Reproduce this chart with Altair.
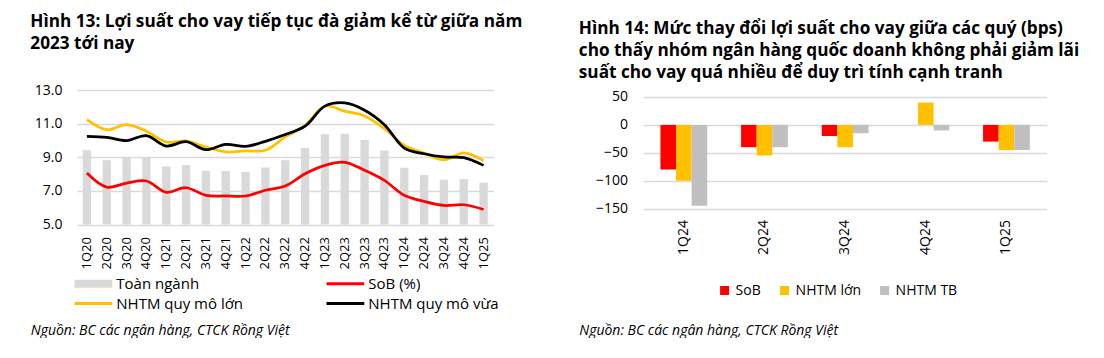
import altair as alt
import pandas as pd

# ---------------- data: left chart (Hình 13) ----------------
quarters = ["1Q20", "2Q20", "3Q20", "4Q20", "1Q21", "2Q21", "3Q21", "4Q21",
            "1Q22", "2Q22", "3Q22", "4Q22", "1Q23", "2Q23", "3Q23", "4Q23",
            "1Q24", "2Q24", "3Q24", "4Q24", "1Q25"]
toan_nganh = [9.42, 8.82, 9.0, 9.0, 8.46, 8.54, 8.2, 8.18, 8.12, 8.4, 8.82,
              9.55, 10.37, 10.4, 10.03, 9.4, 8.38, 7.95, 7.67, 7.71, 7.49]
sob = [8.07, 7.23, 7.47, 7.59, 6.92, 7.19, 6.74, 6.7, 6.7, 7.04, 7.29,
       8.02, 8.52, 8.7, 8.23, 7.63, 6.74, 6.38, 6.14, 6.18, 5.9]
nhtm_lon = [11.24, 10.64, 10.94, 10.55, 9.91, 9.97, 9.61, 9.32, 9.38, 9.42, 10.21,
            10.9, 12.05, 11.74, 11.46, 10.7, 9.71, 9.26, 8.84, 9.27, 8.8]
nhtm_vua = [10.25, 10.19, 9.99, 10.29, 9.67, 9.93, 9.45, 9.77, 9.65, 9.95, 10.35,
            10.85, 12.04, 12.23, 11.8, 10.94, 9.55, 9.21, 9.02, 8.98, 8.52]
series_left = ["Toàn ngành", "SoB (%)", "NHTM quy mô lớn", "NHTM quy mô vừa"]
colors_left = ["#D9D9D9", "#FF0000", "#FFC000", "#000000"]
# legend entries listed column by column (2 columns)
legend_order_left = ["Toàn ngành", "NHTM quy mô lớn", "SoB (%)", "NHTM quy mô vừa"]
left_ticks = [5, 7, 9, 11, 13]

# ---------------- data: right chart (Hình 14) ----------------
quarters_r = ["1Q24", "2Q24", "3Q24", "4Q24", "1Q25"]
sob_r = [-80, -40, -20, 0, -30]
lon_r = [-100, -55, -40, 40, -45]
tb_r = [-145, -40, -15, -10, -45]
series_right = ["SoB", "NHTM lớn", "NHTM TB"]
colors_right = ["#FF0000", "#FFC000", "#BFBFBF"]
right_ticks = [-150, -100, -50, 0, 50]

title_left = ["Hình 13: Lợi suất cho vay tiếp tục đà giảm kể từ giữa năm",
              "2023 tới nay"]
title_right = ["Hình 14: Mức thay đổi lợi suất cho vay giữa các quý (bps)",
               "cho thấy nhóm ngân hàng quốc doanh không phải giảm lãi",
               "suất cho vay quá nhiều để duy trì tính cạnh tranh"]
source = "Nguồn: BC các ngân hàng, CTCK Rồng Việt"

FONT = "Open Sans"
GRID = "#D9D9D9"

# ---------------- build tables ----------------
bars_df = pd.DataFrame({"quarter": quarters, "value": toan_nganh, "series": series_left[0]})
lines_df = pd.concat([
    pd.DataFrame({"quarter": quarters, "value": vals, "series": name})
    for name, vals in zip(series_left[1:], [sob, nhtm_lon, nhtm_vua])
], ignore_index=True)
legend_df = pd.concat([bars_df, lines_df], ignore_index=True)

right_df = pd.concat([
    pd.DataFrame({"quarter": quarters_r, "value": vals, "series": name})
    for name, vals in zip(series_right, [sob_r, lon_r, tb_r])
], ignore_index=True)

# ---------------- left chart ----------------
LW, LH = 416.5, 134.6
SPACING = 149.5
x_left = alt.X(
    "quarter:N", sort=quarters,
    scale=alt.Scale(paddingInner=0.58, paddingOuter=0.29),
    axis=alt.Axis(labelAngle=270, labelFontSize=13, labelPadding=12,
                  ticks=False, domain=False, grid=False, labelColor="#000",
                  title=source, titleFontStyle="italic", titleFontWeight="normal",
                  titleFontSize=14, titleColor="#000", titleAlign="left",
                  titleBaseline="alphabetic", titleX=-46.7, titleY=109.7),
)
y_left = alt.Y(
    "value:Q",
    scale=alt.Scale(domain=[5, 13], nice=False, zero=False),
    axis=alt.Axis(values=left_ticks, format=".1f", title=None, ticks=False,
                  tickSize=0, domain=False, labelPadding=15, labelFontSize=14,
                  labelColor="#000", gridColor=GRID, gridWidth=1.6),
)

bar_layer = alt.Chart(bars_df).mark_bar(color=colors_left[0], clip=True).encode(x=x_left, y=y_left)
line_layer = alt.Chart(lines_df).mark_line(strokeWidth=2.75, interpolate="catmull-rom").encode(
    x=x_left, y=y_left,
    stroke=alt.Stroke("series:N", scale=alt.Scale(domain=series_left[1:], range=colors_left[1:]),
                      legend=None),
    detail="series:N",
)
shape_of = {"Toàn ngành": "M-1,-0.21H1V0.21H-1Z"}
line_path = "M-1,-0.075H1V0.075H-1Z"
color_of = dict(zip(series_left, colors_left))
left_legend = alt.Legend(
    title=None, orient="none", legendX=-2.7, legendY=186, columns=2,
    columnPadding=83, rowPadding=4, symbolSize=1444, clipHeight=15,
    labelFontSize=15, labelOffset=4, symbolStrokeWidth=0, symbolOpacity=1,
    labelColor="#000",
)
legend_layer = alt.Chart(legend_df).mark_point(filled=True, opacity=0).encode(
    x=x_left, y=y_left,
    fill=alt.Fill("series:N", scale=alt.Scale(domain=legend_order_left,
                                              range=[color_of[s] for s in legend_order_left]),
                  legend=left_legend),
    shape=alt.Shape("series:N", scale=alt.Scale(domain=legend_order_left,
                                                range=[shape_of.get(s, line_path) for s in legend_order_left]),
                    legend=left_legend),
)

left = alt.layer(bar_layer, line_layer, legend_layer).properties(
    width=LW, height=LH,
    title=alt.TitleParams(title_left, anchor="start", frame="group", dx=-46.7,
                          fontSize=17.2, fontWeight="bold", font=FONT, lineHeight=22,
                          offset=31, color="#000"),
)

# ---------------- right chart ----------------
RW, RH = 403.3, 118.6
right = alt.Chart(right_df).mark_bar().encode(
    x=alt.X("quarter:N", sort=quarters_r,
            scale=alt.Scale(paddingInner=0.42, paddingOuter=0.21),
            axis=alt.Axis(labelAngle=270, labelFontSize=14, labelPadding=11,
                          ticks=False, domain=False, grid=False, labelColor="#000",
                          title=source, titleFontStyle="italic", titleFontWeight="normal",
                          titleFontSize=14, titleColor="#000", titleAlign="left",
                          titleBaseline="alphabetic", titleX=-64.7, titleY=126)),
    xOffset=alt.XOffset("series:N", sort=series_right, scale=alt.Scale(paddingInner=0, paddingOuter=0)),
    y=alt.Y("value:Q", scale=alt.Scale(domain=[-150, 62.5], nice=False),
            axis=alt.Axis(values=right_ticks, format="d", title=None, ticks=False,
                          tickSize=0, domain=False, labelPadding=16, labelFontSize=14,
                          labelColor="#000", gridColor=GRID, gridWidth=1.6)),
    color=alt.Color("series:N", scale=alt.Scale(domain=series_right, range=colors_right),
                    legend=alt.Legend(title=None, orient="none", direction="horizontal",
                                      legendX=LW + SPACING + 74.6, legendY=193.5,
                                      symbolType="square",
                                      symbolSize=81, symbolStrokeWidth=0, labelFontSize=14,
                                      labelOffset=4, columnPadding=16, labelColor="#000")),
).properties(
    width=RW, height=RH,
    title=alt.TitleParams(title_right, anchor="start", frame="group", dx=-64.7,
                          fontSize=17.2, fontWeight="bold", font=FONT, lineHeight=22,
                          offset=9, color="#000"),
)

chart = alt.hconcat(left, right, spacing=SPACING, bounds="flush").configure(
    font=FONT, padding={"left": 22, "top": 4, "right": 0, "bottom": 0},
).configure_view(stroke=None).configure_axis(labelFont=FONT, titleFont=FONT).configure_legend(
    labelFont=FONT)

chart.save("out.html", embed_options={"renderer": "svg", "actions": False})
